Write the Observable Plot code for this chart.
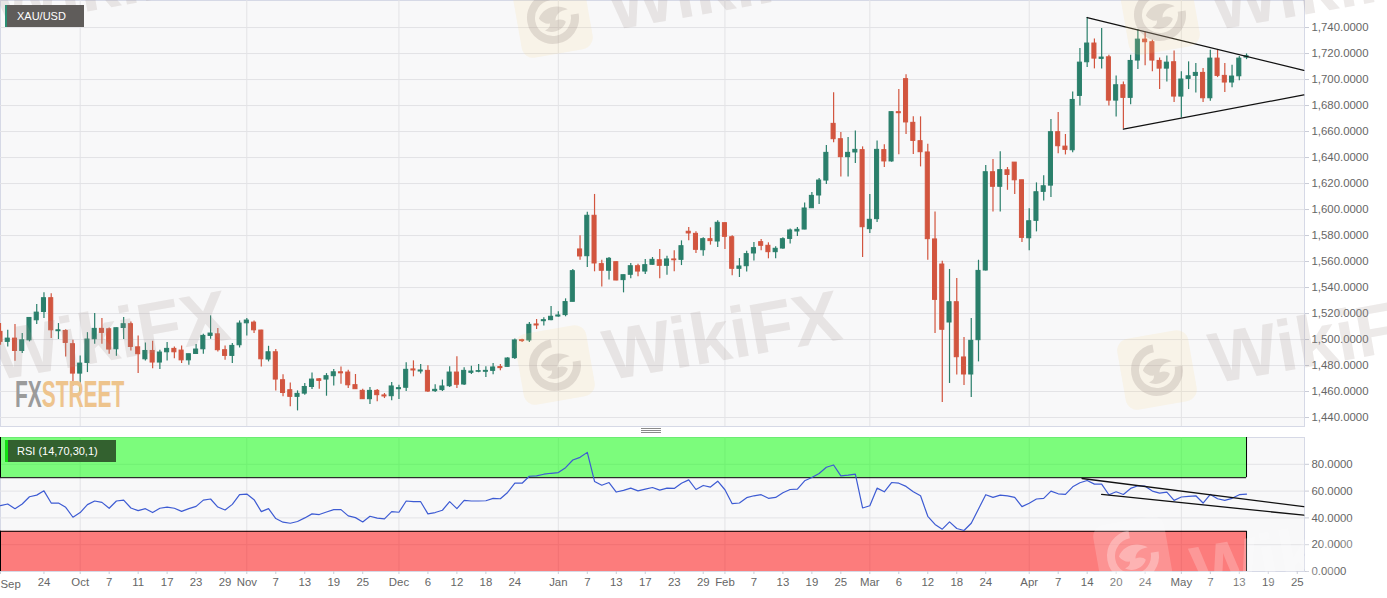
<!DOCTYPE html>
<html><head><meta charset="utf-8">
<script src="https://cdn.jsdelivr.net/npm/d3@7"></script>
<script src="https://cdn.jsdelivr.net/npm/@observablehq/plot@0.6"></script>
<style>
html,body{margin:0;padding:0;background:#fff;overflow:hidden;width:1387px;height:598px}
#page{position:relative;width:1387px;height:598px;overflow:hidden;font-family:"Liberation Sans",Arial,sans-serif}
#page>div.panel{position:absolute;left:0}
svg{display:block}
.wm{position:absolute;font:bold 72px "Liberation Sans",sans-serif;color:rgba(165,150,145,.2);transform:translate(-50%,-50%) rotate(-10deg);white-space:nowrap;pointer-events:none}
.logo{position:absolute;width:72px;height:72px;border-radius:12px;background:rgba(250,220,140,.16);transform:translate(-50%,-50%) rotate(-10deg);pointer-events:none}
.logo svg{position:absolute;left:10px;top:10px;width:52px;height:52px;overflow:visible}
.tag{position:absolute;color:#fff;font-size:11px;line-height:22px;white-space:nowrap;box-sizing:border-box}
.grip{position:absolute;left:641px;width:20px;height:1px;background:#8a8a8a}
</style></head>
<body><div id="page"></div>
<script>
const opens=[1505.9,1498.2,1500.7,1491.2,1499.4,1514.8,1521.2,1531.8,1506.4,1506.6,
1496.4,1473.8,1482,1500.2,1508.2,1507.9,1492.5,1508.9,1511.8,1494,
1484.8,1491.2,1482.3,1490.2,1492.8,1491.5,1484,1488.9,1492.5,1502.8,
1504,1491.8,1487.4,1495.6,1512.5,1513,1506.9,1484.6,1490.2,1468.7,
1461,1455.9,1458.4,1463.5,1469.4,1469.2,1471.8,1474.8,1474.6,1464.9,
1460.5,1454.1,1460.5,1457,1456.4,1461.8,1462.9,1477,1475.4,1475.9,
1460.3,1461.1,1464.1,1474.6,1465.4,1474.4,1475.2,1475.2,1475.9,1478.8,
1479,1485.7,1499.5,1499.3,1511.6,1514.1,1514.9,1517.7,1518.8,1529,
1569.3,1564.1,1595.2,1558,1552.9,1559.5,1545.7,1549.8,1556.4,1552.3,
1557.5,1561,1556.7,1561.6,1561.3,1582.9,1581.3,1568.7,1577.2,1575.4,
1589.5,1578.7,1554.4,1556.4,1566.2,1574.9,1572.1,1567.2,1570,1577.4,
1583.1,1584.6,1601,1610.8,1622.3,1665.9,1654.1,1640.3,1643.9,1645.7,
1584.9,1592.6,1645.7,1637,1674.9,1700.3,1666.7,1652.6,1643.9,1577,
1557.7,1513.1,1528.7,1486.2,1473.1,1499.5,1553.1,1628.7,1617.5,1630.2,
1636.1,1622.5,1577.9,1591.3,1613.6,1618.4,1659.5,1648.4,1645.6,1687.4,
1713.3,1727.7,1715.9,1717.1,1683.8,1695.6,1685.9,1714.6,1730.7,1728.7,
1714.3,1708.4,1713.3,1686.9,1700.5,1702.8,1705.1,1685.6,1716.1,1702.8,
1697.7,1702.5,1716.9];
const highs=[1512.3,1507.1,1511.5,1504.6,1516.9,1526.9,1535.9,1535.3,1512.3,1507.6,
1499.4,1487.4,1505.3,1520,1516.1,1508.9,1508.9,1516.9,1513.5,1502.8,
1497.4,1498.7,1491.8,1497.7,1494.3,1495.1,1488.7,1496.1,1504,1518.2,
1508.4,1495.1,1496.9,1514.3,1516.1,1514.3,1507.1,1494.8,1492.3,1473,
1466.6,1460.5,1466.1,1474.3,1470,1473.8,1476.9,1478.9,1476.4,1473.1,
1461.8,1463.1,1461.6,1458.5,1467,1464.9,1482.1,1483.6,1480.8,1479.8,
1465.2,1468.8,1479,1486.7,1478.2,1479.5,1480.8,1479,1481.6,1480.8,
1485.9,1500.5,1500.3,1513.1,1515.4,1516.7,1525.4,1521.3,1531.3,1553.9,
1579.8,1598,1611.6,1561,1563.1,1559.8,1549.5,1558.5,1558,1561.6,
1563.1,1569.3,1564.1,1568.2,1575.9,1586.2,1582.9,1578.2,1585.9,1591.3,
1589.8,1579.8,1562.3,1568,1574.6,1576.9,1574.4,1571.3,1578.2,1585.1,
1586.2,1605.1,1613.1,1623.9,1649.3,1689.8,1659.2,1655.4,1660.5,1648.2,
1611.6,1652.8,1649.8,1675.1,1692.3,1703.6,1671.3,1671.3,1650.3,1598.2,
1560.3,1553.9,1546.9,1501.6,1516.2,1561,1633.9,1638.5,1644.4,1632.3,
1636.1,1622.5,1600.7,1620.5,1625.9,1669.2,1674.6,1657.7,1690.5,1723.8,
1747.7,1731.2,1739.2,1718.7,1702.8,1698.2,1718.7,1738.4,1736.6,1730.2,
1716.6,1718.2,1722,1705.9,1713.6,1712.3,1708.4,1722.5,1723,1712.3,
1711,1717.7,1719.7];
const lows=[1495.6,1494.3,1483.3,1489.2,1498.2,1511.5,1516.1,1500.7,1500,1486.6,
1464,1459.2,1474.6,1496.4,1496.4,1488.7,1487.1,1500,1491.2,1473.8,
1483.5,1477.6,1476.9,1483.5,1485.3,1481.5,1480.2,1488.7,1488.7,1500.2,
1490.5,1484,1481.5,1493.5,1502.8,1504.6,1478.9,1482.8,1460.5,1455.9,
1448.2,1445.1,1457.1,1461.5,1461.8,1456.4,1464.3,1465.6,1462.3,1461.6,
1453.9,1450,1452.1,1454.6,1452.9,1453.9,1460,1471.3,1473.4,1459.3,
1459.3,1460,1463.1,1462.3,1464.7,1473.1,1474.4,1470.8,1472.9,1475.9,
1478.8,1484.6,1497.7,1497.7,1507.7,1510.5,1514.4,1517.2,1517.5,1529,
1561,1555.4,1552.1,1540.5,1545.7,1545.2,1535.9,1546.7,1548.2,1550,
1557.2,1546.7,1549.5,1552.1,1556.9,1575.9,1566.2,1564.1,1572.6,1570.8,
1569.2,1549,1547.7,1552,1560.5,1568.2,1562.1,1562.1,1569.5,1573.4,
1579.3,1584.4,1600.8,1603.9,1619.3,1651.3,1625.1,1625.1,1635.4,1563.1,
1581.6,1590,1632.3,1636.4,1642.1,1657.7,1642.3,1632.8,1561,1504.6,
1451.6,1466.2,1472.8,1464.6,1455.4,1482.8,1552.8,1598.2,1598.2,1614.8,
1611.5,1574.6,1568.2,1582.8,1606.6,1609.2,1643,1642,1643.6,1679.7,
1709.2,1708.2,1708.2,1679.7,1671.2,1662,1680.7,1707.7,1710.7,1705.9,
1692.3,1698.2,1682.3,1670.5,1692.3,1689.7,1682.3,1683.3,1701.5,1690,
1693.6,1699,1715.3];
const closes=[1498.2,1500.7,1491.2,1499.4,1516.6,1520.7,1531.8,1507.1,1507.1,1497.4,
1473.8,1481.5,1500,1508.2,1505.1,1492.3,1508.7,1511.8,1494.3,1488.7,
1491.2,1482.3,1490,1492.8,1490.2,1484,1488.7,1492.3,1502.8,1504.6,
1491.8,1487.4,1495.1,1512.3,1514.6,1507.1,1484.8,1490.2,1469.2,1458.9,
1455.9,1458.2,1463.5,1469.2,1468.2,1471.8,1474.8,1474,1464.8,1461.8,
1454.1,1460.5,1457.2,1456.2,1463.9,1462.6,1476.7,1476.2,1476.2,1460,
1461.3,1463.9,1474.6,1465.2,1475.9,1475.4,1475.7,1475.9,1478.5,1478,
1485.4,1499.3,1498.8,1511.3,1510.8,1514.9,1517.5,1518.5,1528.8,1552.6,
1563.9,1595.2,1558.5,1552.9,1562.1,1545.4,1549.5,1556.4,1552.3,1557.2,
1561.3,1556.7,1561.6,1561,1571.8,1581.6,1569,1577.2,1575.7,1589.8,
1579,1554.4,1556.2,1565.7,1570.3,1572.1,1567.2,1569.8,1577.2,1583.9,
1584.4,1600.8,1610.5,1622.3,1643.6,1654.1,1640.3,1643.6,1645.9,1586.4,
1592.1,1645.9,1637,1674.9,1674.1,1667,1652.8,1644.1,1577.2,1530.5,
1507.5,1528.7,1486.4,1473.1,1499,1552.8,1628.7,1617.5,1630.3,1626.6,
1622.5,1578.2,1591,1613.3,1617.9,1659.5,1648.7,1645.9,1684.3,1713,
1727.7,1716.1,1716.9,1683.8,1695.6,1685.9,1714.3,1730.7,1728.7,1714.6,
1708.4,1713,1686.9,1700,1702.5,1705.1,1685.6,1716.1,1702.8,1697.7,
1702.3,1716.1,1717.9];
const rsi=[49.1,50.4,46.9,50.4,55.8,57,60.2,51.1,51.1,47.9,
40.5,44,49.9,52.6,51.6,47.2,52.6,53.3,47.4,45.4,
46.9,44,47.2,48.1,47.2,44.9,46.9,48.6,53.3,54.1,
48.1,45.9,50.1,57.3,57.8,53.6,44.7,46.9,39.5,36.8,
36,37.3,40,43,42.5,44.4,46.2,46.2,41.5,40.2,
37,41.2,39.8,39.3,44.7,44.2,52.6,52.1,52.1,43,
44,45.7,52.1,46.9,53.1,52.6,52.6,52.8,54.6,54.3,
59,65.9,65.9,71.1,71.4,72.6,73.3,73.8,77.5,83.2,
85.2,88.9,67.2,64.4,66.4,59.3,60.5,62.2,60.2,61.5,
62.7,60.7,62.2,62,65.9,68.4,61.2,64.2,63,67.4,
61,50.6,51.1,55.1,56.5,57.3,54.6,55.3,58.8,61.2,
61.5,67.7,70.1,73.1,77.8,79.5,71.4,71.9,72.6,47.4,
49.1,62.2,59.5,66.4,65.9,63.5,59.5,56.5,41.2,35.1,
31.6,37,32.1,30.6,36,46.7,57.3,55.3,57,56.5,
55.3,48.4,50.9,54.1,54.6,60,58,57.5,63.2,66.2,
67.9,65.2,65.2,57.3,59.5,57.5,62,64,63.7,60,
58.5,59.3,53.1,55.6,56,56.5,51.1,57.5,54.3,53.1,
54.6,57.3,57.8];
const tickIdx=[0,6,11,15,19,23,27,31,34,38,42,46,50,55,59,63,67,71,77,81,85,89,93,97,100,104,108,112,116,120,124,128,132,136,142,146,150,154,158,163,167,171,175,179];
const tickLabels=["","24","Oct","7","11","17","23","29","Nov","7","13","19","25","Dec","6","12","18","24","Jan","7","13","17","23","29","Feb","7","13","19","25","Mar","6","12","18","24","Apr","7","14","20","24","May","7","13","19","25"];
const monthIdx=[11,34,55,77,100,120,142,163];
const priceTicks=[1440,1460,1480,1500,1520,1540,1560,1580,1600,1620,1640,1660,1680,1700,1720,1740];
const rsiTicks=[0,20,40,60,80];
const resistance=[{i:150,p:1747.7},{i:179.9,p:1707.1}];
const support=[{i:155,p:1661.8},{i:179.9,p:1688.2}];
const rsiUpper=[{i:149.3,v:69.4},{i:179.9,v:48.4}];
const rsiLower=[{i:152,v:57.5},{i:179.9,v:42}];
const lastIdx=172;

const UP="#2a7f6b",DOWN="#d2553f",GRID="#e3e3e6",BORDER="#d6d9e6",TXT="#666";
const fontStyle={fontFamily:'"Liberation Sans",Arial,sans-serif',fontSize:"11.4px",background:"transparent",overflow:"visible"};
const rows=opens.map((o,i)=>({i,o,h:highs[i],l:lows[i],c:closes[i],col:closes[i]>=o?UP:DOWN}));
const rsiRows=rsi.map((v,i)=>({i,v}));
const labelOf=new Map(tickIdx.map((t,k)=>[t,tickLabels[k]]));

const main=Plot.plot({width:1387,height:427,marginLeft:0,marginRight:83,marginTop:0,marginBottom:1,style:fontStyle,
  x:{domain:[0,180],axis:null},
  y:{domain:[1433.1,1760.8],axis:null},
  marks:[
    Plot.frame({fill:"#f8f8f9",stroke:BORDER}),
    Plot.ruleY(priceTicks,{stroke:GRID,strokeWidth:1}),
    Plot.ruleX(monthIdx,{stroke:GRID,strokeWidth:1}),
    Plot.ruleX(rows,{x:"i",y1:"l",y2:"h",stroke:"col",strokeWidth:1.2}),
    Plot.rect(rows,{x1:d=>d.i-.28,x2:d=>d.i+.28,y1:"o",y2:"c",fill:"col",stroke:"col",strokeWidth:1}),
    Plot.line(resistance,{x:"i",y:"p",stroke:"#111",strokeWidth:1.3}),
    Plot.line(support,{x:"i",y:"p",stroke:"#111",strokeWidth:1.3}),
    Plot.axisY(priceTicks,{anchor:"right",label:null,tickSize:4,tickPadding:3,stroke:"#c9ccd6",color:TXT,tickFormat:d3.format(",.4f")})
  ]});
const rsiChart=Plot.plot({width:1387,height:164,marginLeft:0,marginRight:83,marginTop:3,marginBottom:27,style:fontStyle,
  x:{domain:[0,180],axis:null},
  y:{domain:[0,100],axis:null},
  marks:[
    Plot.frame({fill:"#f8f8f9",stroke:BORDER}),
    Plot.ruleY(rsiTicks.slice(1),{stroke:GRID,strokeWidth:1}),
    Plot.ruleX(monthIdx,{stroke:GRID,strokeWidth:1}),
    Plot.rect([{a:70,b:100}],{x1:()=>0,x2:()=>lastIdx,y1:"a",y2:"b",fill:"#00ff00",fillOpacity:.5}),
    Plot.rect([{a:0,b:30}],{x1:()=>0,x2:()=>lastIdx,y1:"a",y2:"b",fill:"#ff0000",fillOpacity:.5}),
    Plot.ruleY([70,30],{x1:()=>0,x2:()=>lastIdx,stroke:"#000",strokeWidth:1}),
    Plot.ruleX([0,lastIdx],{y1:()=>70,y2:()=>100,stroke:"#000",strokeWidth:1}),
    Plot.ruleX([0,lastIdx],{y1:()=>0,y2:()=>30,stroke:"#000",strokeWidth:1}),
    Plot.line(rsiRows,{x:"i",y:"v",stroke:"#3d5bd3",strokeWidth:1.2}),
    Plot.line(rsiUpper,{x:"i",y:"v",stroke:"#111",strokeWidth:1.3}),
    Plot.line(rsiLower,{x:"i",y:"v",stroke:"#111",strokeWidth:1.3}),
    Plot.axisY(rsiTicks,{anchor:"right",label:null,tickSize:4,tickPadding:3,stroke:"#c9ccd6",color:TXT,tickFormat:d3.format(".4f")}),
    Plot.axisX(tickIdx,{anchor:"bottom",label:null,tickSize:3,tickPadding:3,stroke:"#c9ccd6",color:TXT,tickFormat:d=>labelOf.get(d)}),
    Plot.text(["Sep"],{x:()=>0,frameAnchor:"bottom",textAnchor:"start",lineAnchor:"middle",dy:13,dx:0,fill:TXT})
  ]});

const page=document.getElementById("page");
function add(html){page.insertAdjacentHTML("beforeend",html);}
const a=document.createElement("div");a.className="panel";a.style.top="0";a.append(main);page.append(a);
const b=document.createElement("div");b.className="panel";b.style.top="434px";b.append(rsiChart);page.append(b);
[428.5,430.5,432.5].forEach(y=>add(`<div class="grip" style="top:${y-.5}px"></div>`));

// watermark overlays
const glyph=c=>`<svg viewBox="0 0 52 52"><path d="M26 4a22 22 0 1 0 22 22" fill="none" stroke="${c}" stroke-width="8"/><path d="M12 24c6-10 20-12 30-4-8 0-13 3-14 9 4-1 8 0 10 3-4 8-15 10-22 5 4-1 6-3 6-6-4 0-8-3-10-7z" fill="${c}"/></svg>`;
const wmGrey="rgba(150,135,130,.24)",wmWhite="rgba(255,255,255,.3)";
[[110,335],[722,335],[1328,338],[110,-18],[725,-15],[1328,-15]].forEach(([x,y])=>add(`<div class="wm" style="left:${x}px;top:${y}px">WikiFX</div>`));
[[553,18],[555,365],[1157,370],[1160,15]].forEach(([x,y])=>add(`<div class="logo" style="left:${x}px;top:${y}px">${glyph(wmGrey)}</div>`));
add(`<div class="logo" style="left:1133px;top:556px;background:rgba(255,255,255,.18)">${glyph(wmWhite)}</div>`);
add(`<div class="wm" style="left:1310px;top:552px;color:rgba(255,255,255,.22)">WikiFX</div>`);

// legends and brand
add(`<div class="tag" style="left:5px;top:5px;width:79px;height:22px;background:#5f5c5a;border-left:2px solid #2a8f74;padding-left:10px">XAU/USD</div>`);
add(`<div class="tag" style="left:5px;top:440px;width:111px;height:22px;background:#33612f;border-left:3px solid #14e014;padding-left:9px">RSI (14,70,30,1)</div>`);
add(`<div style="position:absolute;left:15px;top:375.7px;font:bold 37px/1 'Liberation Sans',sans-serif;white-space:nowrap;transform:scaleX(.565);transform-origin:0 0"><span style="color:#9b9b9b">FX</span><span style="color:#eec48d">STREET</span></div>`);
</script></body></html>
